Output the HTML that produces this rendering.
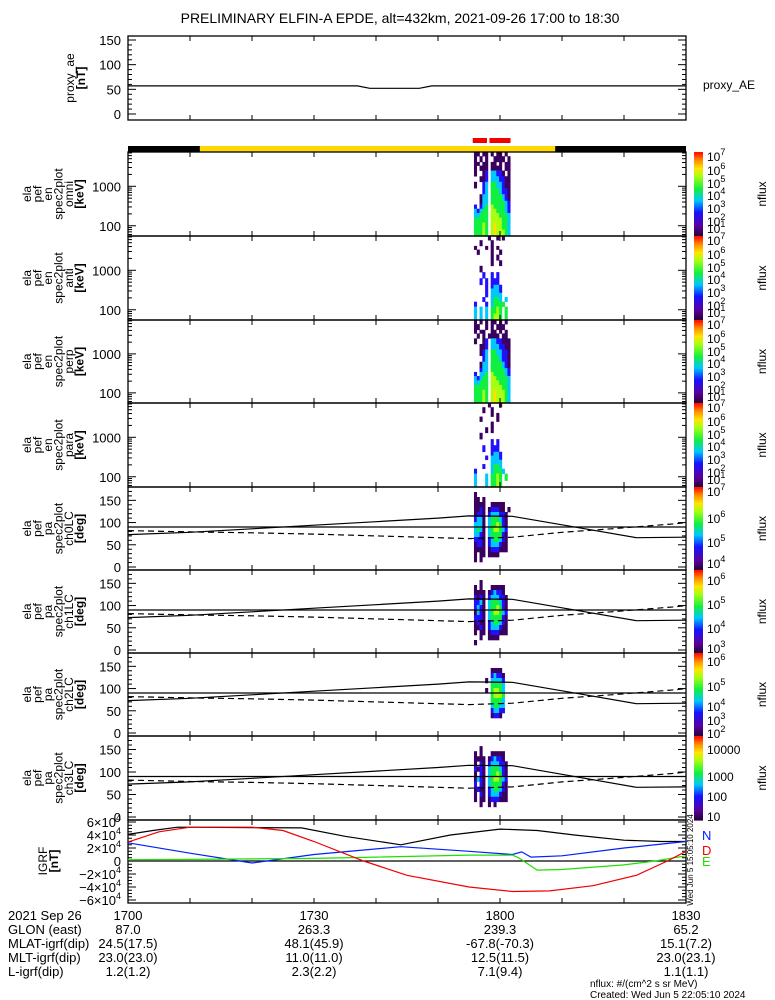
<!DOCTYPE html>
<html><head><meta charset="utf-8"><style>
html,body{margin:0;padding:0;background:#fff;}
svg{display:block;font-family:"Liberation Sans",sans-serif;}
</style></head><body>
<svg id="c" width="775" height="1000" viewBox="0 0 775 1000" xmlns="http://www.w3.org/2000/svg">
<rect width="775" height="1000" fill="#fff"/>
<text x="400" y="23" font-size="14" text-anchor="middle">PRELIMINARY ELFIN-A EPDE, alt=432km, 2021-09-26 17:00 to 18:30</text>
</svg>
<script>
// ---------- data ----------
const aeT=[0,37,39,47,49,90];
const aeV=[57,57,52,52,57,57];
const barSegT=[0,11.6,68.9,90];
const barSegC=["#000","#ffd800","#000"];
const redMarkT=[[55.6,57.9],[58.3,61.7]];
const eEdges=[55,80,120,160,210,270,345,430,630,900,1300,1800,2500,3350,4150,5800,7400];
const colT0=55.8, colDT=0.45;
const specOmni=["11.11.1.11.1..","1.1.1..1111.1.","11.11.11.1.11.","1.111.1111.11.","1..12.33221.1.","..112.3332211.","1..23.4433211.","...23.4443221.","..133.4444321.","..133.4444432.","2.234.5444432.","32344.5544432.","33444.5554443.","44444.5555443.","44454.5655443.","44454.5655543."];
const specAnti=[".....1..1.1...","..1...1.......","1...1.1.1.....",".1....1..1....","......1.1.....","......1..1....","..1...........","...2..2.2.....","..2.2.222.....","....2.2332....","....2.3332....","....2.3333....","...2..3443.3..","2...2.34444...","3.3.3.4454.4..","3.3.3.4554.4.."];
const specPerp=["1.1.1.11.1.1..","11..1.1.111...","1.11..11.1.1..",".1.1.1111.11..","1..12.3322111.","..112.3332211.","..123.4433221.","...23.4443221.","..133.4444321.","..233.4444432.","2.334.5444432.","32344.5544443.","33444.5554443.","44444.5555443.","44454.5655543.","44454.5655543."];
const specPara=[".....1...1....","...1..1.......","......1.1.....","..1.....1.....","......1.......","....1.1.......","..1...........","......2.2.....","...2..222.....","......2332....","....2.3332....","......3333....","...2..3443....","2.....34443...","3...3.4454.4..","3...3.4454...."];
const pa0=["..............","1.............","11.1..........","1111..11111...","1121.122211.1.","1221.2333221..","2331.3444321..","3331.3445421..","3431.3455432..","3321.3444421..","2221.2344321..","1221.2333211..","1111.1222111..","1.11.1111.....","1.1...........",".............."];
const pa1=["..............","..............","..1...........","1.1...11111...","1111.123221...","2121.2333221..","2231.3444321..","2321.3445421..","1321.3455432..","2221.3444421..","1211.2344321..","1121.2333211..","1.11.1222111..","..1..1111.....","1.............",".............."];
const pa2=["..............","..............","..............","......1111....","......23221...","....1.33332...","......44443...","....1.45543...","......45554...","......44443...","......34433...","......23322...","......1221....","..............","..............",".............."];
const pa3=["..............","..............","..1...........","1.1...11111...","1111.123221...","1.21.2333221..","2121.3444321..","1.21.3445421..","1321.3455432..","2.21.3444421..","1211.2344321..","1.21.2333211..","1.11.1222111..","..1..1.1......","..............",".............."];
const lcT=[0,10,20,30,40,50,55,62,70,82,90];
const lcV=[73,78,86,94,102,110,115,114,95,66,67];
const lcdT=[0,10,20,30,40,55,62,70,78,88,90];
const lcdV=[82,79,77,74,70,64,67,78,86,97,100];
const totT=[0,4,8,28,35,44,52,60,66,72,80,86,90];
const totV=[41000,47000,52000,51000,38000,25000,40000,49000,47000,40000,32000,30000,30000];
const dT=[0,5,10,20,25,30,38,45,55,62,68,75,82,87,90];
const dV=[29000,45000,52000,52000,47000,30000,0,-22000,-40000,-47000,-46000,-38000,-22000,0,15000];
const nT=[0,10,18,20,30,44,55,62,63.5,65,70,80,90];
const nV=[28000,12000,0,-3000,10000,22000,15000,10000,14000,6000,8000,20000,30000];
const eT=[0,10,30,40,55,62,63,66,70,80,85,90];
const eV=[2000,2500,4000,6000,9000,9000,5000,-14000,-13000,-6000,0,8000];
const xTickLbl=["1700","1730","1800","1830"];
const rowNames=["2021 Sep 26","GLON (east)","MLAT-igrf(dip)","MLT-igrf(dip)","L-igrf(dip)"];
const rowVals=[["87.0","263.3","239.3","65.2"],["24.5(17.5)","48.1(45.9)","-67.8(-70.3)","15.1(7.2)"],["23.0(23.0)","11.0(11.0)","12.5(11.5)","23.0(23.1)"],["1.2(1.2)","2.3(2.2)","7.1(9.4)","1.1(1.1)"]];
// ---------- helpers ----------
const svg=document.getElementById('c');const NS="http://www.w3.org/2000/svg";
const X0=128,X1=686;
function xs(t){return X0+(X1-X0)*t/90;}
function mk(tag,at,parent){const e=document.createElementNS(NS,tag);for(const k in at)e.setAttribute(k,at[k]);(parent||svg).appendChild(e);return e;}
function ln(x1,y1,x2,y2,st,w,d){const e=mk('line',{x1,y1,x2,y2,stroke:st||'#000','stroke-width':w||1});if(d)e.setAttribute('stroke-dasharray',d);return e;}
function tx(x,y,s,size,anchor,fill,name){const e=mk('text',{x,y,'font-size':size||13,'text-anchor':anchor||'start',fill:fill||'#000'});e.textContent=s;return e;}
const pal=["#fff","#3a0060","#2010ff","#00c8ff","#10f040","#a8ff10","#ffe000","#ff2000"];
function poly(T,V,ys,col,dash,name){let p=T.map((t,i)=>xs(t).toFixed(1)+','+ys(V[i]).toFixed(1)).join(' ');const e=mk('polyline',{points:p,fill:'none',stroke:col,'stroke-width':1.2});if(dash)e.setAttribute('stroke-dasharray',dash);}
function xticks(top,bot){for(let t=10;t<90;t+=10){ln(xs(t),top,xs(t),top+5);ln(xs(t),bot,xs(t),bot-5);}}
function box(top,bot,name){const r=mk('rect',{x:X0,y:top,width:X1-X0,height:bot-top,fill:'none',stroke:'#000','stroke-width':1.3});}
function ylab(lines,cx,cy,x0,dx,boldLast){lines.forEach((s,i)=>{const x=x0+i*dx;const e=tx(0,0,s,12,'middle','#000','y-axis-title');e.setAttribute('transform',`translate(${x},${cy}) rotate(-90)`);if(boldLast&&i==lines.length-1)e.setAttribute('font-weight','bold');});}
function colorbar(top,bot,labels,name){const g=mk('g',{});const n=60;for(let i=0;i<n;i++){const v=i/n;const y=bot-(i+1)*(bot-top)/n;const c=cb(v);mk('rect',{x:694,y:y,width:9,height:(bot-top)/n+0.6,fill:c},g);}
 labels.forEach(l=>{const t=tx(707,l[1]+5,'10','12','start','#000','colorbar-tick');if(l[0]!==null&&l[2]!==true){const s=mk('tspan',{dy:-6,'font-size':9},t);s.textContent=l[0];}else if(l[2]===true){t.textContent=l[0];}});
 const nf=tx(0,0,'nflux',12,'middle','#000','colorbar-title');nf.setAttribute('transform',`translate(766,${(top+bot)/2}) rotate(-90)`);}
function cb(v){const st=[[0,[40,0,60]],[0.12,[90,0,160]],[0.28,[20,20,255]],[0.42,[0,200,255]],[0.56,[20,240,60]],[0.7,[160,255,20]],[0.8,[255,230,0]],[0.9,[255,140,0]],[1,[255,0,0]]];for(let i=1;i<st.length;i++){if(v<=st[i][0]){const a=st[i-1],b=st[i],f=(v-a[0])/(b[0]-a[0]);return 'rgb('+a[1].map((c,k)=>Math.round(c+(b[1][k]-c)*f)).join(',')+')';}}return 'red';}
// ---------- proxy AE ----------
(function(){const top=36,bot=120;const ys=v=>114-(v)*74/150;
 box(top,bot,'proxy-ae-panel');xticks(top,bot);
 for(let v=0;v<=160;v+=10){const y=ys(v);if(y<top||y>bot)continue;const L=v%50==0?8:4;ln(X0,y,X0+L,y);ln(X1,y,X1-L,y);}
 [0,50,100,150].forEach(v=>tx(121,ys(v)+5,String(v),13,'end','#000','y-tick-label'));
 poly(aeT,aeV,ys,'#000',null,'proxy-ae-line');
 tx(703,89,'proxy_AE',12,'start','#000','proxy-ae-legend');
 ylab(['proxy_ae','[nT]'],0,78,74,11,true);
})();
// ---------- orbit bar ----------
for(let i=0;i<barSegC.length;i++){const r=mk('rect',{x:xs(barSegT[i]),y:146,width:xs(barSegT[i+1])-xs(barSegT[i]),height:6,fill:barSegC[i]});}
redMarkT.forEach(m=>{const r=mk('rect',{x:xs(m[0]),y:138,width:xs(m[1])-xs(m[0]),height:5,fill:'#f00000'});});
// ---------- spectrogram panels ----------
const tops=[152,236,320,403,487,570,653,736,820,903];
function drawCells(rows,top,bot,edgeY,name){rows.forEach((s,r)=>{const bin=rows.length-1-r;const y1=edgeY(bin+1),y2=edgeY(bin);for(let c=0;c<s.length;c++){const ch=s[c];if(ch=='.')continue;const t=colT0+c*colDT;const e=mk('rect',{x:xs(t),y:y1,width:xs(t+colDT)-xs(t)+0.3,height:y2-y1+0.3,fill:pal[+ch]});}});}
const specSets=[[specOmni,'omni'],[specAnti,'anti'],[specPerp,'perp'],[specPara,'para']];
specSets.forEach((sp,i)=>{const top=tops[i],bot=tops[i+1];const lo=Math.log10(55),hi=Math.log10(7400);
 const ys=E=>bot-(Math.log10(E)-lo)/(hi-lo)*(bot-top);
 drawCells(sp[0],top,bot,b=>ys(eEdges[b]),'spectrogram-cell-'+sp[1]);
 box(top,bot,'energy-panel-'+sp[1]);xticks(top,bot);
 for(let d=10;d<=1000;d*=10)for(let m=1;m<10;m++){const E=d*m;if(E<55||E>7400)continue;const y=ys(E);const L=m==1?8:4;ln(X0,y,X0+L,y);ln(X1,y,X1-L,y);}
 tx(121,ys(1000)+5,'1000',13,'end','#000','y-tick-label');tx(121,ys(100)+5,'100',13,'end','#000','y-tick-label');
 ylab(['ela','pef','en','spec2plot',sp[1],'[keV]'],0,(top+bot)/2,31,10.5,true);
 colorbar(top,bot,[['7',top+4],['6',top+18],['5',top+31],['4',top+43],['3',top+56],['2',top+69],['1',top+76]],'colorbar-'+sp[1]);
});
const paSets=[[pa0,'ch0LC',[['7',491],['6',518],['5',542],['4',563]]],[pa1,'ch1LC',[['6',580],['5',604],['4',628],['3',648]]],[pa2,'ch2LC',[['6',661],['5',686],['4',706],['3',720],['2',733]]],[pa3,'ch3LC',[['10000',749,true],['1000',776,true],['100',796,true],['10',816,true]]]];
paSets.forEach((p,k)=>{const i=k+4;const top=tops[i],bot=tops[i+1];const ys=v=>bot-3-v*(bot-top-3)/180;
 drawCells(p[0],top,bot,b=>ys(b*11.25),'pitch-angle-cell-'+p[1]);
 box(top,bot,'pitch-angle-panel-'+p[1]);xticks(top,bot);
 for(let v=0;v<=180;v+=10){const y=ys(v);const L=v%50==0?8:4;ln(X0,y,X0+L,y);ln(X1,y,X1-L,y);}
 [0,50,100,150].forEach(v=>tx(121,ys(v)+5,String(v),13,'end','#000','y-tick-label'));
 ln(X0,ys(90),X1,ys(90),'#000',1.2);
 poly(lcT,lcV,ys,'#000',null,'loss-cone-line');
 poly(lcdT,lcdV,ys,'#000','6,4','anti-loss-cone-line');
 ylab(['ela','pef','pa','spec2plot',p[1],'[deg]'],0,(top+bot)/2,31,10.5,true);
 colorbar(top,bot,p[2],'colorbar-'+p[1]);
});
// ---------- IGRF ----------
(function(){const top=820,bot=903;const ys=v=>861-v*0.65/1000;
 box(top,bot,'igrf-panel');xticks(top,bot);
 for(let v=-60000;v<=60000;v+=5000){const y=ys(v);const L=v%20000==0?8:4;ln(X0,y,X0+L,y);ln(X1,y,X1-L,y);}
 ln(X0,ys(0),X1,ys(0),'#000',1.2);
 [60000,40000,20000,0,-20000,-40000,-60000].forEach(v=>{const t=tx(121,ys(v)+5,'',13,'end','#000','y-tick-label');if(v==0){t.textContent='0';}else{t.textContent=(v<0?'\u2212':'')+Math.abs(v/10000)+'\u00d710';const s=mk('tspan',{dy:-6,'font-size':9},t);s.textContent='4';}});
 poly(totT,totV,ys,'#000',null,'igrf-total-line');
 poly(nT,nV,ys,'#0020ff',null,'igrf-n-line');
 poly(eT,eV,ys,'#20e000',null,'igrf-e-line');
 poly(dT,dV,ys,'#f00000',null,'igrf-d-line');
 tx(702,840,'N',13,'start','#0020ff','legend-n');tx(702,855,'D',13,'start','#f00000','legend-d');tx(702,866,'E',13,'start','#20e000','legend-e');
 const st=tx(0,0,'Wed Jun  5 15:05:10 2024',8,'middle','#000','timestamp');st.setAttribute('transform','translate(693,860) rotate(-90)');
 ylab(['IGRF','[nT]'],0,861,47,11,true);
})();
// ---------- bottom annotations ----------
const rowY=[920,934,948,962,976];
tx(8,rowY[0],rowNames[0],13,'start','#000','date-label');
xTickLbl.forEach((s,i)=>tx(xs(i*30),rowY[0],s,13,'middle','#000','x-tick-label'));
for(let r=1;r<5;r++){tx(8,rowY[r],rowNames[r],13,'start','#000','row-name');rowVals[r-1].forEach((s,i)=>tx(xs(i*30),rowY[r],s,13,'middle','#000','ephemeris-value'));}
tx(590,987,'nflux: #/(cm^2 s sr MeV)',10,'start','#000','units-note');
tx(590,998,'Created: Wed Jun  5 22:05:10 2024',10,'start','#000','created-note');
</script>
</body></html>
